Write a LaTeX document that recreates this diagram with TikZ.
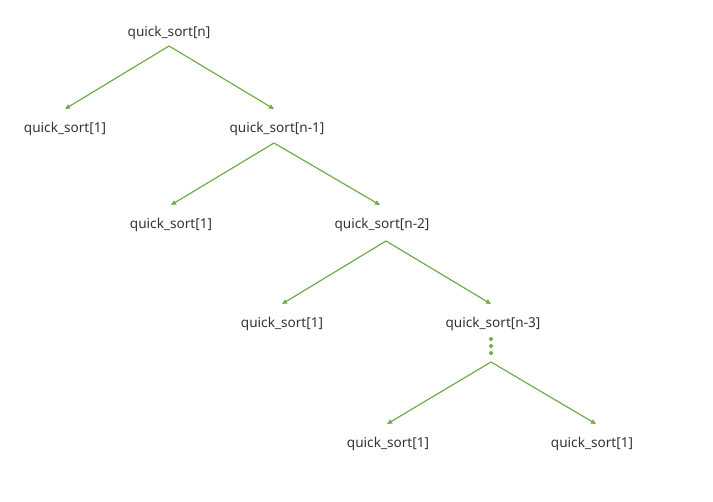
\documentclass[tikz,border=0pt]{standalone}
\usepackage{fontspec}
\setmainfont{Noto Sans}
\usetikzlibrary{arrows.meta,calc}
\definecolor{edgegreen}{HTML}{70AD47}
\definecolor{txtgray}{HTML}{333333}
\tikzset{
  lbl/.style={inner sep=0pt, text height=10pt, text depth=3.5pt, font=\fontsize{13.6}{15}\selectfont, text=txtgray},
  edge/.style={draw=edgegreen, line width=1.2pt, -{Triangle[length=5pt,width=4.5pt]}},
  dotc/.style={circle, fill=edgegreen, inner sep=0pt, minimum size=4pt}
}
\newcommand{\tipof}[1]{($(#1.center)+(0,20)$)}
\begin{document}
\begin{tikzpicture}[x=1pt,y=1pt]
\useasboundingbox (0,0) rectangle (713,502);
\node[lbl] (r)  at (169,469) {quick\_sort[n]};
\node[lbl] (l1) at (65,373) {quick\_sort[1]};
\node[lbl] (r1) at (277,373) {quick\_sort[n-1]};
\node[lbl] (l2) at (171,277) {quick\_sort[1]};
\node[lbl] (r2) at (382,277) {quick\_sort[n-2]};
\node[lbl] (l3) at (282,178) {quick\_sort[1]};
\node[lbl] (r3) at (493,178) {quick\_sort[n-3]};
\node[lbl] (l4) at (388,58) {quick\_sort[1]};
\node[lbl] (r4) at (592,58) {quick\_sort[1]};
\coordinate (a0) at (169,456);
\coordinate (a1) at (274,359);
\coordinate (a2) at (386,261);
\coordinate (a4) at (491,140);
\node[dotc] (d1) at (491,163) {};
\node[dotc] (d2) at (491,156) {};
\node[dotc] (d3) at (491,149) {};
\draw[edge] (a0) -- \tipof{l1};
\draw[edge] (a0) -- ($(r1.center)+(-3,20)$);
\draw[edge] (a1) -- \tipof{l2};
\draw[edge] (a1) -- ($(r2.center)+(-2,20)$);
\draw[edge] (a2) -- \tipof{l3};
\draw[edge] (a2) -- ($(r3.center)+(-2,20)$);
\draw[edge] (a4) -- ($(l4.center)+(-1,20)$);
\draw[edge] (a4) -- ($(r4.center)+(4,20)$);
\end{tikzpicture}
\end{document}
